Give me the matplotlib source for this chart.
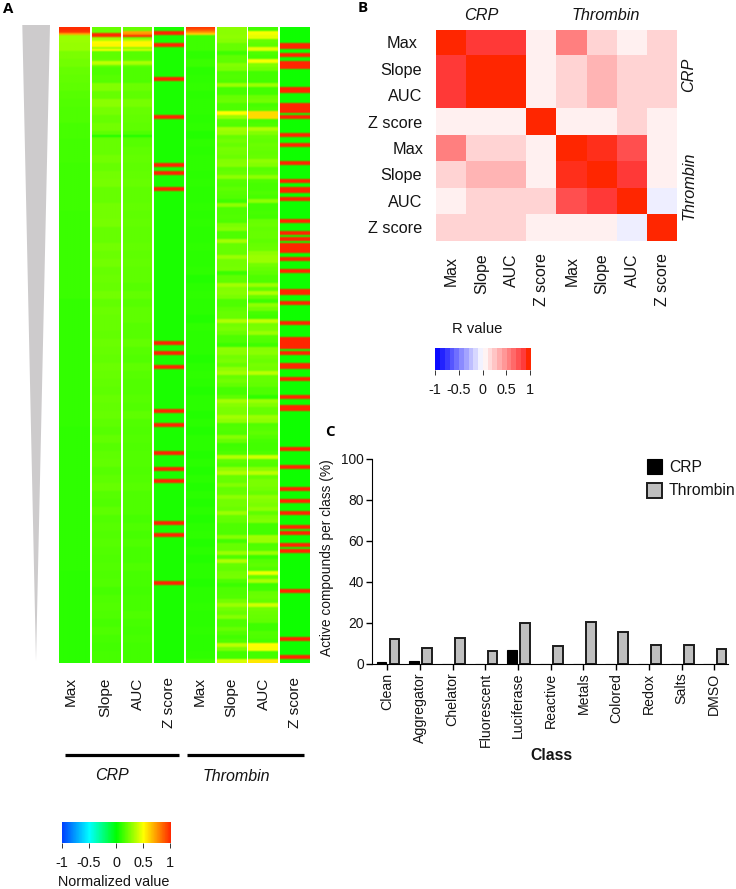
import numpy as np
import matplotlib
matplotlib.use('Agg')
import matplotlib.pyplot as plt
from matplotlib.colors import LinearSegmentedColormap, ListedColormap

plt.rcParams['font.family'] = ['Liberation Sans', 'DejaVu Sans']

W, H = 736, 889
TXT = '#141414'

metrics = ['Max', 'Slope', 'AUC', 'Z score']
assays = ['CRP', 'Thrombin']

# panel A, values in percent, one value per block of rows
crp_max = [30, 30, 29, 24, 22, 20, 19, 18, 17, 16, 15, 15, 14, 14, 13, 13, 13, 12, 12, 12,
           12, 12, 12, 11, 11, 11, 11, 11, 11, 11, 11, 11, 11, 11, 10, 10, 10, 10, 10, 10,
           10, 10, 10, 10, 10, 10, 10, 10, 10, 10, 9, 9, 9, 9, 9, 9, 9, 9, 9, 9,
           9, 9, 9, 9, 9, 9, 9, 9, 8, 8, 8, 8, 8, 8, 8, 8, 8, 8, 8, 8]
crp_slope = [20, 24, 22, 18, 20, 15, 17, 25, 20, 27, 23, 20, 22, 18, 20, 20, 22, 20, 22, 23,
             20, 20, 22, 22, 23, 20, 20, 22, 21, 22, 20, 21, 20, 22, 19, 21, 20, 20, 19, 21,
             20, 19, 21, 20, 19, 18, 20, 19, 20, 18, 17, 19, 17, 18, 19, 17, 18, 20, 17, 16,
             18, 16, 17, 16, 17, 16, 15, 16, 15, 16, 14, 15, 16, 15, 14, 15, 14, 13, 14, 14]
crp_auc = [20, 22, 20, 17, 18, 15, 15, 21, 18, 23, 20, 19, 18, 15, 17, 18, 19, 18, 19, 20,
           18, 18, 19, 18, 19, 18, 18, 19, 18, 19, 18, 18, 17, 19, 17, 18, 18, 17, 17, 19,
           17, 16, 18, 17, 16, 16, 17, 16, 18, 16, 15, 16, 15, 16, 16, 15, 16, 17, 15, 15,
           15, 14, 15, 14, 15, 14, 14, 15, 14, 14, 13, 14, 14, 15, 14, 13, 14, 13, 13, 13]
thr_max = [13, 12, 12, 9, 11, 8, 9, 10, 8, 9, 9, 8, 9, 7, 9, 8, 9, 9, 8, 9,
           8, 8, 9, 8, 9, 8, 8, 9, 8, 8, 9, 7, 8, 9, 8, 8, 7, 9, 8, 8,
           8, 7, 8, 9, 8, 7, 8, 8, 7, 8, 7, 8, 8, 7, 8, 7, 8, 7, 8, 7,
           8, 7, 8, 9, 7, 8, 7, 8, 8, 7, 8, 8, 9, 8, 8, 9, 8, 8, 9, 12]
thr_slope = [27, 27, 28, 26, 20, 20, 12, 18, 18, 25, 24, 15, 16, 15, 30, 14, 14, 20, 21, 15,
             15, 50, 30, 17, 16, 32, 29, 20, 22, 20, 23, 22, 21, 25, 26, 18, 20, 28, 17, 16,
             18, 17, 16, 12, 28, 15, 15, 16, 15, 24, 26, 15, 15, 32, 20, 20, 20, 30, 22, 22,
             23, 11, 18, 18, 32, 25, 26, 24, 15, 15, 18, 20, 20, 34, 22, 24, 21, 15, 15, 11,
             28, 27, 22, 24, 20, 28, 32, 20, 22, 19, 14, 14, 18, 32, 26, 24, 24, 32, 28, 15,
             16, 15, 26, 20, 12, 13, 15, 35, 18, 16, 28, 34, 20, 20, 25, 19, 20, 28, 22, 22,
             21, 30, 20, 19, 15, 15, 15, 26, 13, 20, 20, 30, 15, 34, 20, 19, 22, 23, 15, 11,
             15, 15, 16, 22, 30, 22, 20, 26, 15, 15, 20, 16, 13, 15, 36, 24, 13, 13, 42]
thr_auc = [13, 48, 45, 20, 18, 45, 15, 14, 48, 25, 22, 13, 13, 13, 30, 13, 13, 21, 22, 14,
           15, 58, 58, 14, 15, 34, 25, 20, 19, 21, 20, 19, 20, 28, 25, 17, 18, 28, 15, 14,
           14, 15, 14, 28, 13, 13, 14, 13, 20, 21, 19, 20, 20, 18, 20, 21, 28, 30, 30, 22,
           20, 18, 15, 15, 30, 18, 34, 20, 12, 28, 22, 14, 12, 38, 23, 24, 30, 17, 16, 12,
           26, 27, 22, 21, 23, 22, 36, 20, 20, 19, 15, 15, 9, 30, 25, 20, 20, 30, 28, 16,
           17, 18, 16, 14, 13, 13, 15, 40, 17, 16, 26, 36, 20, 24, 24, 22, 20, 28, 25, 24,
           28, 18, 24, 25, 13, 13, 13, 31, 30, 15, 16, 30, 11, 17, 18, 16, 46, 20, 33, 12,
           13, 20, 21, 19, 40, 22, 21, 20, 19, 12, 12, 16, 15, 14, 50, 48, 13, 13, 55]

# single rows that stand out from the blocks above, {row: percent}
crp_max_rows = {0: 98, 1: 98, 2: 95, 3: 70}
crp_slope_rows = {3: 98, 4: 98, 5: 30, 6: 34, 7: 50, 8: 52, 9: 52, 10: 30, 11: 48, 17: 38, 18: 36, 54: 6}
crp_auc_rows = {2: 70, 3: 75, 4: 98, 6: 34, 7: 52, 8: 52, 9: 52, 10: 28, 11: 40, 17: 34, 18: 32, 54: 6}
thr_max_rows = {0: 95, 1: 88, 2: 75, 3: 60}

crp_z_red = [2, 8, 25, 44, 68, 72, 80, 157, 162, 169, 191, 198, 212, 220, 226, 247, 253, 277]
thr_z_red = [8, 9, 13, 17, 19, 30, 31, 38, 39, 41, 44, 53, 58, 67, 76, 80, 81, 85, 96, 102,
             105, 108, 109, 111, 115, 121, 131, 132, 137, 147, 155, 157, 159, 162, 168, 169,
             175, 184, 189, 190, 210, 219, 230, 236, 242, 249, 252, 258, 261, 281, 305, 314]

# panel B, correlation between the readouts
r_matrix = [[1.00, 0.90, 0.90, 0.07, 0.58, 0.20, 0.07, 0.20],
            [0.90, 1.00, 1.00, 0.07, 0.20, 0.34, 0.20, 0.20],
            [0.90, 1.00, 1.00, 0.07, 0.20, 0.34, 0.20, 0.20],
            [0.07, 0.07, 0.07, 1.00, 0.07, 0.07, 0.20, 0.07],
            [0.58, 0.20, 0.20, 0.07, 1.00, 0.95, 0.80, 0.07],
            [0.20, 0.34, 0.34, 0.07, 0.95, 1.00, 0.90, 0.07],
            [0.07, 0.20, 0.20, 0.20, 0.80, 0.90, 1.00, -0.07],
            [0.20, 0.20, 0.20, 0.07, 0.07, 0.07, -0.07, 1.00]]

# panel C
classes = ['Clean', 'Aggregator', 'Chelator', 'Fluorescent', 'Luciferase', 'Reactive',
           'Metals', 'Colored', 'Redox', 'Salts', 'DMSO']
crp_active = [1.0, 1.4, 0, 0, 6.5, 0, 0, 0, 0, 0, 0]
thrombin_active = [12.0, 7.5, 12.3, 6.3, 19.7, 8.6, 20.5, 15.3, 9.0, 9.0, 7.0]

cbar_ticks = [-1, -0.5, 0, 0.5, 1]
cbar_labels = ['-1', '-0.5', '0', '0.5', '1']

fig = plt.figure(figsize=(W / 100, H / 100), dpi=100)


def px_axes(x0, y0, x1, y1, **kw):
    # axes from pixel box, y counted from the top
    return fig.add_axes([x0 / W, 1 - y1 / H, (x1 - x0) / W, (y1 - y0) / H], **kw)


canvas = px_axes(0, 0, W, H)
canvas.set_xlim(0, W)
canvas.set_ylim(H, 0)
canvas.axis('off')


def label(x, y, s, size=11.3, **kw):
    kw.setdefault('ha', 'center')
    kw.setdefault('va', 'center')
    kw.setdefault('color', TXT)
    canvas.text(x, y, s, fontsize=size, **kw)


def column(blocks, n_repeat, rows=None, base=None, red=None):
    if base is not None:
        vals = np.full(318, base, dtype=float)
    else:
        vals = np.repeat(np.array(blocks, dtype=float), n_repeat)[:318]
    for r, v in (rows or {}).items():
        vals[r] = v
    # a red hit takes two rows, one row fades out once the image is smoothed
    for r in (red or []):
        vals[r:r + 2] = 100
    return vals / 100


cmap_a = LinearSegmentedColormap.from_list(
    'norm_val', ['#0040ff', '#00ffff', '#00ff00', '#ffff00', '#ff2600'])
cmap_b = LinearSegmentedColormap.from_list(
    'r_val', [(0, '#0a0aff'), (0.5, '#ffffff'), (0.95, '#ff3b3b'), (1, '#ff2600')])

# panel A
canvas.fill([22.3, 50, 36], [25, 25, 661], color='#cdcbcc', lw=0)

heat_cols = [column(crp_max, 4, crp_max_rows),
             column(crp_slope, 4, crp_slope_rows),
             column(crp_auc, 4, crp_auc_rows),
             column(None, 0, base=5, red=crp_z_red),
             column(thr_max, 4, thr_max_rows),
             column(thr_slope, 2),
             column(thr_auc, 2),
             column(None, 0, base=3, red=thr_z_red)]
col_edges = [(58.5, 89.5), (92, 121), (123, 152), (154, 184),
             (186, 215), (217, 246.5), (248, 278), (280, 309.5)]
col_centers = [71, 105, 137.7, 169, 200, 231.7, 264, 295]

for vals, (x0, x1) in zip(heat_cols, col_edges):
    ax = px_axes(x0, 27, x1, 662.7)
    ax.imshow(np.tile(vals[:, None], (1, 2)), cmap=cmap_a, vmin=-1, vmax=1, aspect='auto',
              interpolation='bilinear', interpolation_stage='rgba')
    ax.axis('off')

for i, xc in enumerate(col_centers):
    label(xc, 677.3, metrics[i % 4], size=11.1, rotation=90, va='top')

canvas.plot([64.7, 179], [754.7, 754.7], color='black', lw=2.3, solid_capstyle='butt')
canvas.plot([187, 304.3], [754.7, 754.7], color='black', lw=2.3, solid_capstyle='butt')
label(111.7, 775, assays[0], style='italic', size=11.5)
label(236.7, 776.5, assays[1], style='italic', size=11.5)


def colorbar(cmap, x0, y0, x1, y1):
    ax = px_axes(x0, y0, x1, y1)
    ax.imshow(np.linspace(-1, 1, 256)[None, :], cmap=cmap, vmin=-1, vmax=1, aspect='auto',
              extent=[-1, 1, 0, 1], interpolation='nearest')
    ax.set_yticks([])
    ax.set_xticks(cbar_ticks)
    ax.set_xticklabels(cbar_labels, fontsize=10.4, color=TXT)
    ax.tick_params(axis='x', length=3.6, width=0.7, pad=5.5, color='#333333')
    for s in ax.spines.values():
        s.set_visible(False)
    return ax


colorbar(cmap_a, 62, 822, 170.3, 843)
label(114, 881.7, 'Normalized value', size=10.4)

# panel B
ax_b = px_axes(436.3, 29.7, 677.3, 241)
ax_b.imshow(np.array(r_matrix), cmap=cmap_b, vmin=-1, vmax=1, aspect='auto', interpolation='nearest')
ax_b.axis('off')

row_h = (241 - 29.7) / 8
col_w = (677.3 - 436.3) / 8
left_labels_x = [417, 422, 422, 422, 423.5, 422, 422, 422]
for i in range(8):
    label(left_labels_x[i], 29.7 + row_h * (i + 0.5) + 1, metrics[i % 4], size=11.7, ha='right')
    label(436.3 + col_w * (i + 0.5), 253.5 if i % 4 else 256, metrics[i % 4], size=11.4,
          rotation=90, va='top')
label(481.7, 15.7, assays[0], style='italic', size=11.7)
label(606, 15, assays[1], style='italic', size=11.7)
label(689, 75, assays[0], style='italic', size=11.7, rotation=90)
label(689, 185.7, assays[1], style='italic', size=11.7, rotation=90)

stepped = ListedColormap(cmap_b(np.linspace(0, 1, 20)))
colorbar(stepped, 435, 348.3, 530.3, 370)
label(477, 329, 'R value', size=10.6)

# panel C
ax_c = px_axes(372.3, 458.7, 728, 663.7)
x = np.arange(len(classes))
ax_c.bar(x - 0.18, crp_active, 0.3, color='black', edgecolor='black', lw=0.8, label='CRP')
ax_c.bar(x + 0.22, thrombin_active, 0.3, color='#bfbfbf', edgecolor='#1c1c1c', lw=1.4, label='Thrombin')
ax_c.set_xlim(-0.459, 10.42)
ax_c.set_ylim(0, 100)
ax_c.set_yticks(range(0, 101, 20))
ax_c.set_xticks(x)
ax_c.set_xticklabels(classes, rotation=90, fontsize=10.2, color=TXT)
ax_c.tick_params(axis='y', labelsize=9.9, length=4, width=1, pad=2, labelcolor=TXT)
ax_c.tick_params(axis='x', length=4, width=1, pad=2.5)
ax_c.spines[['top', 'right']].set_visible(False)
ax_c.patch.set_alpha(0)

label(327, 558, 'Active compounds per class (%)', size=9.9, rotation=90)
label(551.7, 755, 'Class', size=11.3, weight='bold')

canvas.add_patch(plt.Rectangle((646.7, 459), 15.3, 15, fc='black', ec='black', lw=0.8))
canvas.add_patch(plt.Rectangle((646.7, 482.7), 15.3, 15.3, fc='#bfbfbf', ec='#1c1c1c', lw=1.4))
label(669, 467.7, assays[0], size=11.3, ha='left')
label(669, 490.7, assays[1], size=11.3, ha='left')

# panel letters
label(8, 9, 'A', size=10.8, weight='bold', family=['Open Sans', 'DejaVu Sans'], color='black')
label(363, 8, 'B', size=10.8, weight='bold', family=['Open Sans', 'DejaVu Sans'], color='black')
label(330, 431.5, 'C', size=10.8, weight='bold', family=['Open Sans', 'DejaVu Sans'], color='black')

fig.savefig('out.png', dpi=100)
